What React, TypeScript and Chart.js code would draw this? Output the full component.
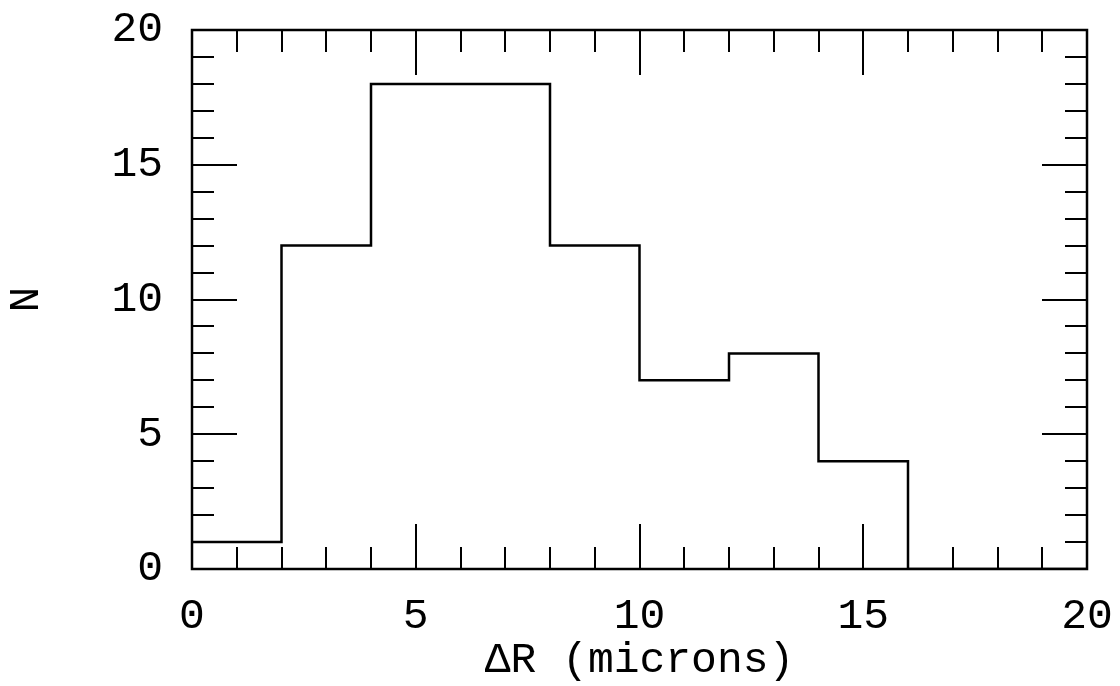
import React, { useEffect, useRef } from "react";
import { Chart, registerables } from "chart.js";

Chart.register(...registerables);

// Histogram bin edges (microns) and counts per bin
const binEdges = [0, 2, 4, 6, 8, 10, 12, 14, 16, 18, 20];
const binCounts = [1, 12, 18, 18, 12, 7, 8, 4, 0, 0];
const xTickLabels = ["0", "5", "10", "15", "20"];
const yTickLabels = ["0", "5", "10", "15", "20"];
const xTitle = "ΔR (microns)";
const yTitle = "N";

const FONT = "'Liberation Mono', 'DejaVu Sans Mono', monospace";

const tickPlugin = {
  id: "inwardTicks",
  afterDatasetsDraw(chart: any) {
    const { ctx, chartArea, scales } = chart;
    const { left, right, top, bottom } = chartArea;
    const xs = scales.x;
    const ys = scales.y;
    ctx.save();
    ctx.strokeStyle = "#000";
    ctx.lineWidth = 2;
    ctx.lineCap = "butt";
    for (let v = 1; v < 20; v++) {
      const len = v % 5 === 0 ? 45 : 22;
      const px = Math.round(xs.getPixelForValue(v));
      ctx.beginPath();
      ctx.moveTo(px, bottom);
      ctx.lineTo(px, bottom - len);
      ctx.moveTo(px, top);
      ctx.lineTo(px, top + len);
      ctx.stroke();
      const py = Math.round(ys.getPixelForValue(v));
      ctx.beginPath();
      ctx.moveTo(left, py);
      ctx.lineTo(left + len, py);
      ctx.moveTo(right, py);
      ctx.lineTo(right - len, py);
      ctx.stroke();
    }
    ctx.lineWidth = 2.5;
    ctx.strokeRect(left, top, right - left, bottom - top);
    ctx.restore();
  },
};

export default function App() {
  const ref = useRef<HTMLCanvasElement | null>(null);
  useEffect(() => {
    document.body.style.margin = "0";
    const points = binCounts.map((c, i) => ({ x: binEdges[i], y: c }));
    points.push({ x: binEdges[binEdges.length - 1], y: 0 });
    const chart = new Chart(ref.current as HTMLCanvasElement, {
      type: "line",
      data: {
        datasets: [
          {
            data: points,
            stepped: "before",
            borderColor: "#000",
            borderWidth: 2.5,
            pointRadius: 0,
            fill: false,
          },
        ],
      },
      options: {
        animation: false,
        responsive: false,
        maintainAspectRatio: false,
        layout: { padding: { top: 30, right: 33, left: 0, bottom: 0 } },
        plugins: { legend: { display: false }, tooltip: { enabled: false } },
        scales: {
          x: {
            type: "linear",
            min: 0,
            max: 20,
            afterFit: (s: any) => {
              s.height = 117;
              s.paddingLeft = 0;
              s.paddingRight = 0;
            },
            grid: { display: false, drawTicks: false },
            border: { display: false },
            ticks: {
              stepSize: 5,
              padding: 22,
              color: "#000",
              font: { family: FONT, size: 43 },
              callback: (v: any) => xTickLabels[xTickLabels.indexOf(String(v))] ?? "",
              maxRotation: 0,
            },
            title: {
              display: true,
              text: xTitle,
              color: "#000",
              font: { family: FONT, size: 43 },
              padding: { top: 0, bottom: 0 },
            },
          },
          y: {
            type: "linear",
            min: 0,
            max: 20,
            afterFit: (s: any) => {
              s.width = 192;
              s.paddingTop = 0;
              s.paddingBottom = 0;
            },
            grid: { display: false, drawTicks: false },
            border: { display: false },
            ticks: {
              stepSize: 5,
              padding: 29,
              color: "#000",
              font: { family: FONT, size: 43 },
              callback: (v: any) => yTickLabels[yTickLabels.indexOf(String(v))] ?? "",
            },
            title: {
              display: true,
              text: yTitle,
              color: "#000",
              font: { family: FONT, size: 43 },
              padding: { top: 1, bottom: 0 },
            },
          },
        },
      },
      plugins: [tickPlugin],
    });
    return () => chart.destroy();
  }, []);
  return (
    <div style={{ position: "absolute", left: 0, top: 0, width: 1120, height: 686, background: "#fff" }}>
      <canvas ref={ref} width={1120} height={686} style={{ width: 1120, height: 686 }} />
    </div>
  );
}
